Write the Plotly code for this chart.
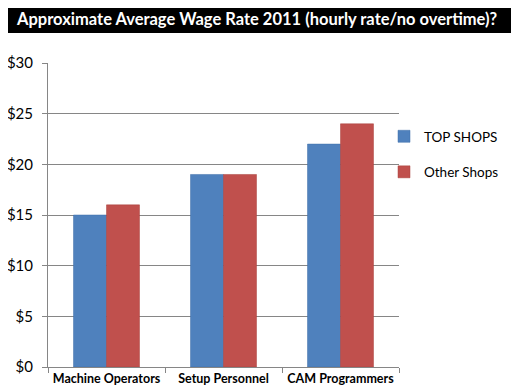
import plotly.graph_objects as go

categories = ["Machine Operators", "Setup Personnel", "CAM Programmers"]
top_shops = [15, 19, 22]
other_shops = [16, 19, 24]
y_ticks = [0, 5, 10, 15, 20, 25, 30]
y_tick_labels = ["$0", "$5", "$10", "$15", "$20", "$25", "$30"]
title_text = "Approximate Average Wage Rate 2011 (hourly rate/no overtime)?"

# page is offset by the default 8px body margin; work in figure coords = page - 8
OFF = 8
W, H = 519 - OFF, 391 - OFF
L, T = 48 - OFF, 63 - OFF
pw, ph = 399 - 48, 367 - 63
R, B = W - L - pw, H - T - ph


def px_x(page_x):
    return (page_x - OFF - L) / pw


def px_y(page_y):
    return (T + ph - (page_y - OFF)) / ph


fig = go.Figure()
fig.add_trace(go.Bar(x=categories, y=top_shops, name="TOP SHOPS",
                     marker=dict(color="#4F81BD", line=dict(color="#3F6FA8", width=0.5)),
                     legendgroup="a"))
fig.add_trace(go.Bar(x=categories, y=other_shops, name="Other Shops",
                     marker=dict(color="#C0504D", line=dict(color="#A8403D", width=0.5)),
                     legendgroup="b"))

fig.update_layout(
    width=W, height=H,
    margin=dict(l=L, r=R, t=T, b=B, pad=0, autoexpand=False),
    paper_bgcolor="white", plot_bgcolor="white",
    barmode="group", bargap=0.436, bargroupgap=0,
    font=dict(family="Lato, Carlito, sans-serif", color="black"),
    showlegend=True,
    legend=dict(x=px_x(384), y=px_y(121), xanchor="left", yanchor="top",
                font=dict(size=13.5, family="Lato, sans-serif"),
                tracegroupgap=15, itemwidth=30, bgcolor="rgba(0,0,0,0)"),
    xaxis=dict(showline=True, linecolor="#868686", linewidth=1,
               ticks="outside", ticklen=5, tickcolor="#868686", tickson="boundaries",
               tickangle=0, automargin=False,
               tickfont=dict(size=12.5, family="Lato, sans-serif", weight="bold"),
               showgrid=False),
    yaxis=dict(range=[0, 30], tickmode="array", tickvals=y_ticks, ticktext=y_tick_labels,
               showline=True, linecolor="#868686", linewidth=1,
               ticks="outside", ticklen=5, tickcolor="#868686",
               showgrid=True, gridcolor="#868686", gridwidth=1,
               zeroline=False, automargin=False,
               tickfont=dict(size=15, family="Lato, sans-serif"), ticklabelstandoff=6),
    shapes=[dict(type="rect", xref="paper", yref="paper",
                 x0=px_x(0), x1=px_x(513),
                 y0=px_y(33), y1=px_y(0),
                 fillcolor="black", line=dict(width=0), layer="below")],
    annotations=[dict(text=title_text, xref="paper", yref="paper",
                      x=px_x(256), y=px_y(19),
                      xanchor="center", yanchor="middle", showarrow=False,
                      font=dict(size=16.5, color="white", family="Lato, sans-serif", weight="bold"))],
)

fig.write_html("out.html")
